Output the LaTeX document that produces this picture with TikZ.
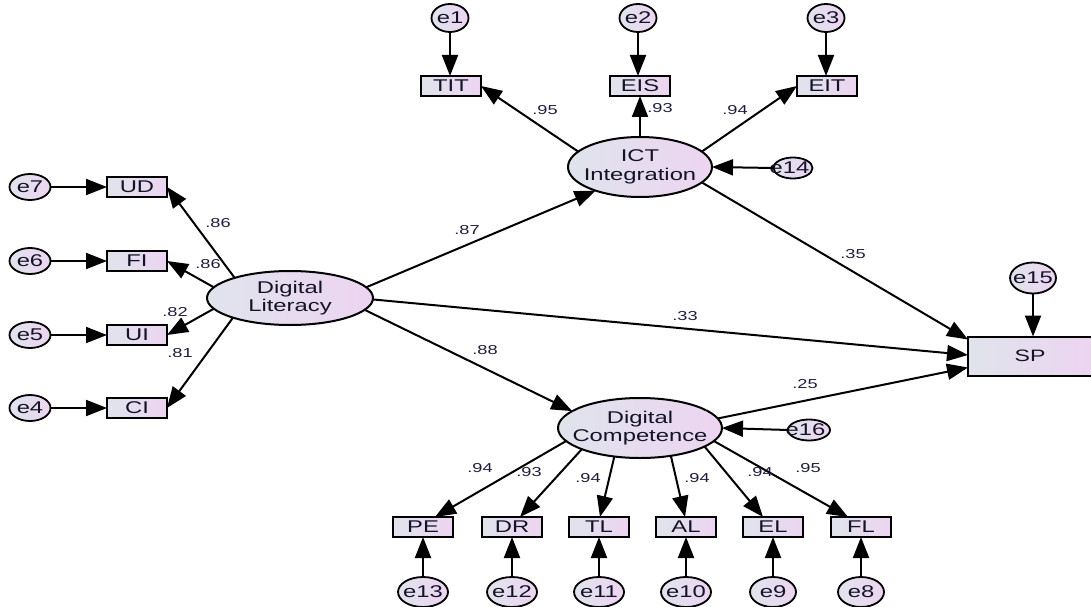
\documentclass[tikz,border=0pt]{standalone}
\usepackage{fontspec}
\usepackage{graphicx}
\setmainfont{Liberation Sans}
\usetikzlibrary{shapes.geometric,arrows.meta,calc}
\definecolor{cl}{HTML}{E0E4EC}
\definecolor{cr}{HTML}{EDD4F1}
\definecolor{txtc}{HTML}{141428}
\definecolor{coefc}{HTML}{1E1E3C}
\newcommand\hs[1]{\scalebox{1.4}[1]{#1}}
\newcommand\hz[1]{\makebox[0pt]{\scalebox{1.4}[1]{#1}}}
\tikzset{
  every node/.style={inner sep=0pt, outer sep=0pt},
  lat/.style={ellipse, draw, line width=2pt, left color=cl, right color=cr, align=center,
    font=\fontsize{17}{18.5}\selectfont, text=txtc},
  obs/.style={rectangle, draw, line width=2pt, left color=cl, right color=cr,
    minimum width=60pt, minimum height=20pt, font=\fontsize{17}{18}\selectfont, text=txtc},
  err/.style={ellipse, draw, line width=1.8pt, left color=cl, right color=cr,
    minimum width=38pt, minimum height=27pt, font=\fontsize{17}{18}\selectfont, text=txtc},
  arr/.style={line width=2pt, -{Triangle[length=21pt,width=16pt]}},
  coef/.style={font=\fontsize{13}{14}\selectfont, text=coefc}
}
\begin{document}
\begin{tikzpicture}[x=1pt,y=-1pt]
\useasboundingbox (0,0) rectangle (1091,607);
% latent variables
\node[lat, minimum width=144pt, minimum height=60pt] (ICT) at (640,167) {\hz{ICT}\\\hz{Integration}};
\node[lat, minimum width=166pt, minimum height=54pt] (DL) at (290,298) {\hz{Digital}\\\hz{Literacy}};
\node[lat, minimum width=164pt, minimum height=60pt] (DC) at (640,428) {\hz{Digital}\\\hz{Competence}};
% observed
\node[obs] (TIT) at (451,86) {\hz{TIT}};
\node[obs] (EIS) at (640,86) {\hz{EIS}};
\node[obs] (EIT) at (827,86) {\hz{EIT}};
\node[obs] (UD) at (137,187) {\hz{UD}};
\node[obs] (FI) at (137,261) {\hz{FI}};
\node[obs] (UI) at (137,335) {\hz{UI}};
\node[obs] (CI) at (137,408) {\hz{CI}};
\node[obs] (PE) at (423,527) {\hz{PE}};
\node[obs] (DR) at (512,527) {\hz{DR}};
\node[obs] (TL) at (599,527) {\hz{TL}};
\node[obs] (AL) at (686,527) {\hz{AL}};
\node[obs] (EL) at (773,527) {\hz{EL}};
\node[obs] (FL) at (861,527) {\hz{FL}};
\node[obs, minimum width=124pt, minimum height=39pt, font=\fontsize{16.5}{17}\selectfont] (SP) at (1030,356) {\hz{SP}};
% errors
\node[err, minimum width=37pt, minimum height=28pt] (e1) at (450,18) {\hz{e1}};
\node[err, minimum width=37pt, minimum height=28pt] (e2) at (638,18) {\hz{e2}};
\node[err, minimum width=37pt, minimum height=28pt] (e3) at (826,18) {\hz{e3}};
\node[err, minimum width=41pt, minimum height=26pt] (e7) at (30,187) {\hz{e7}};
\node[err, minimum width=41pt, minimum height=26pt] (e6) at (30,261) {\hz{e6}};
\node[err, minimum width=41pt, minimum height=26pt] (e5) at (30,335) {\hz{e5}};
\node[err, minimum width=41pt, minimum height=26pt] (e4) at (30,408) {\hz{e4}};
\node[err, minimum width=46pt, minimum height=31pt] (e15) at (1033,278) {\hz{e15}};
\node[err, minimum width=39pt, minimum height=21pt] (e14) at (793,168) {\hspace*{-7pt}\hz{e14}};
\node[err, minimum width=42pt, minimum height=21pt] (e16) at (809,430) {\hspace*{-7pt}\hz{e16}};
\node[err, minimum width=50pt, minimum height=30pt] (e13) at (423,592) {\hz{e13}};
\node[err, minimum width=50pt, minimum height=30pt] (e12) at (512,592) {\hz{e12}};
\node[err, minimum width=50pt, minimum height=30pt] (e11) at (599,592) {\hz{e11}};
\node[err, minimum width=50pt, minimum height=30pt] (e10) at (686,592) {\hz{e10}};
\node[err, minimum width=46pt, minimum height=30pt] (e9) at (773,592) {\hz{e9}};
\node[err, minimum width=46pt, minimum height=30pt] (e8) at (861,592) {\hz{e8}};
% error arrows
\draw[arr] (e1) -- (TIT.north -| e1);
\draw[arr] (e2) -- (EIS.north -| e2);
\draw[arr] (e3) -- (EIT.north -| e3);
\draw[arr] (e7) -- (UD);
\draw[arr] (e6) -- (FI);
\draw[arr] (e5) -- (UI);
\draw[arr] (e4) -- (CI);
\draw[arr] (e15) -- (SP.north -| e15);
\draw[arr] (e14.west) -- (ICT.east);
\draw[arr] (e16.west) -- (DC.east);
\foreach \a/\b in {e13/PE,e12/DR,e11/TL,e10/AL,e9/EL,e8/FL}{\draw[arr] (\a) -- (\b);}
% ICT loadings
\draw[arr] (ICT.166) -- (TIT.east);
\draw[arr] (ICT.north) -- (EIS.south);
\draw[arr] (ICT.14) -- (EIT.west);
% DL loadings
\draw[arr] (DL.160) -- (UD.east);
\draw[arr] (DL.172) -- (FI.east);
\draw[arr] (DL.188) -- (UI.east);
\draw[arr] (DL.199) -- (CI.east);
% structural
\draw[arr] (DL.8) -- (ICT.208);
\draw[arr] (DL.-1) -- ($(SP.west)+(0,-1)$);
\draw[arr] (DL.-9) -- (DC.166);
\draw[arr] (ICT.-14) -- ($(SP.north west)+(0,3)$);
\draw[arr] (DC.7) -- ($(SP.south west)+(0,-8)$);
% DC loadings
\draw[arr] (DC.190) -- ($(PE.north)+(12,0)$);
\draw[arr] (DC.200) -- ($(DR.north)+(8,0)$);
\draw[arr] (DC.228) -- ($(TL.north)+(1,0)$);
\draw[arr] (DC.318) -- ($(AL.north)+(-1,0)$);
\draw[arr] (DC.344) -- ($(EL.north)+(-10,0)$);
\draw[arr] (DC.350) -- ($(FL.north)+(-13,0)$);
% coefficients
\node[coef] (c1) at (545,110) {\hs{.95}};
\node[coef] (c2) at (660,108) {\hs{.93}};
\node[coef] (c3) at (735,110) {\hs{.94}};
\node[coef] (c4) at (218,223) {\hs{.86}};
\node[coef] (c5) at (208,264) {\hs{.86}};
\node[coef] (c6) at (175,312) {\hs{.82}};
\node[coef] (c7) at (180,353) {\hs{.81}};
\node[coef] (c8) at (467,230) {\hs{.87}};
\node[coef] (c9) at (685,316) {\hs{.33}};
\node[coef] (c10) at (485,350) {\hs{.88}};
\node[coef] (c11) at (853,254) {\hs{.35}};
\node[coef] (c12) at (805,384) {\hs{.25}};
\node[coef] (c13) at (480,468) {\hs{.94}};
\node[coef] (c14) at (529,472) {\hs{.93}};
\node[coef] (c15) at (588,478) {\hs{.94}};
\node[coef] (c16) at (697,478) {\hs{.94}};
\node[coef] (c17) at (760,472) {\hs{.94}};
\node[coef] (c18) at (808,468) {\hs{.95}};
\end{tikzpicture}
\end{document}
